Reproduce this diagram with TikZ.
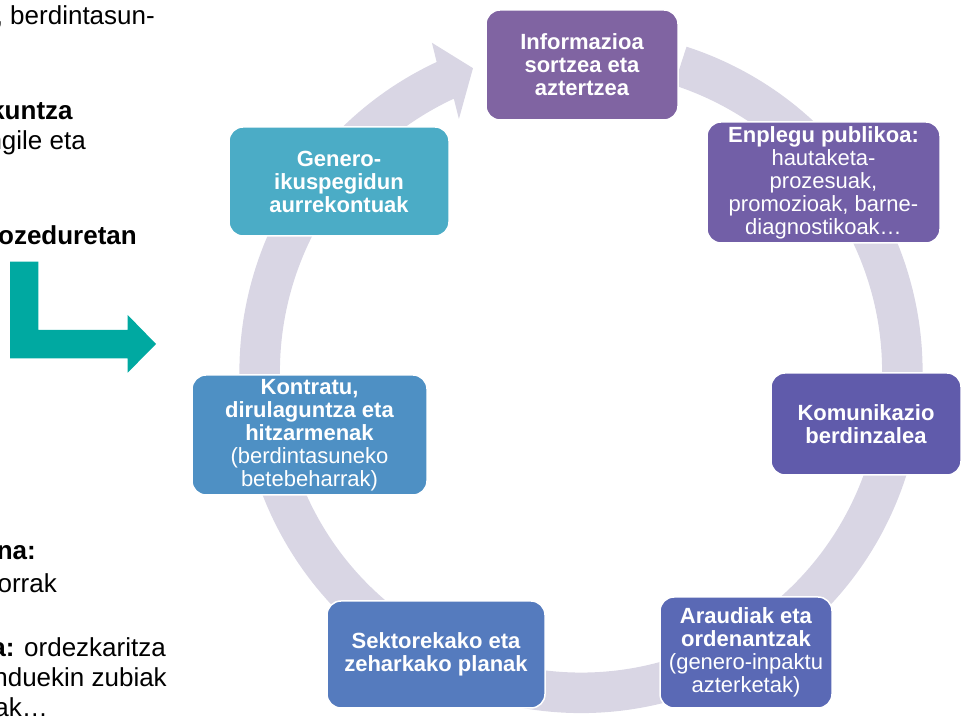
\documentclass[tikz,border=0pt]{standalone}
\usepackage{fontspec}
\setmainfont{Liberation Sans}
\definecolor{ringc}{HTML}{D9D6E4}
\definecolor{tealc}{HTML}{00A9A1}
\definecolor{cinfo}{HTML}{8064A2}
\definecolor{cenpl}{HTML}{725FA7}
\definecolor{ckomu}{HTML}{605BAB}
\definecolor{carau}{HTML}{5A69B5}
\definecolor{csekt}{HTML}{557BBE}
\definecolor{ckont}{HTML}{4E90C4}
\definecolor{cgene}{HTML}{4BACC6}
\begin{document}
\begin{tikzpicture}[x=1pt,y=1pt,
  box/.style={rounded corners=14pt, draw=white, line width=1.5pt, align=center,
    text=white, inner sep=0pt, font=\fontsize{22}{23}\selectfont},
  bbox/.style={box, font=\fontsize{22}{23}\selectfont\bfseries},
  lefttxt/.style={anchor=base east, inner sep=0pt, font=\fontsize{26}{31}\selectfont, text=black}]
\useasboundingbox (0,0) rectangle (962,720);
\clip (0,0) rectangle (962,720);
% cycle arrow
\fill[ringc, shift={(581,348.5)}]
  (72:341.5pt) arc[start angle=72, end angle=-245, radius=341.5pt]
  -- (-245.6:361pt) -- (-250.4:322pt) -- (-244.2:280.5pt) -- (-245:301pt)
  arc[start angle=-245, end angle=72, radius=301pt] -- cycle;
% boxes
\node[bbox, fill=cinfo, minimum width=192pt, minimum height=110pt] (info) at (582,655)
  {Informazioa\\sortzea eta\\aztertzea};
\node[box, fill=cenpl, minimum width=233pt, minimum height=121pt] (enpl) at (823.5,537.5)
  {\textbf{Enplegu publikoa:}\\hautaketa-\\prozesuak,\\promozioak, barne-\\diagnostikoak…};
\node[bbox, fill=ckomu, minimum width=190pt, minimum height=102pt] (komu) at (866,296)
  {Komunikazio\\berdinzalea};
\node[box, fill=carau, minimum width=172pt, minimum height=111pt] (arau) at (746,67.5)
  {\textbf{Araudiak eta}\\\textbf{ordenantzak}\\(genero-inpaktu\\azterketak)};
\node[bbox, fill=csekt, minimum width=218pt, minimum height=107pt] (sekt) at (436,65.5)
  {Sektorekako eta\\zeharkako planak};
\node[box, fill=ckont, minimum width=235pt, minimum height=120pt] (kont) at (309.5,285)
  {\textbf{Kontratu,}\\\textbf{dirulaguntza eta}\\\textbf{hitzarmenak}\\(berdintasuneko\\betebeharrak)};
\node[bbox, fill=cgene, minimum width=220pt, minimum height=109pt] (gene) at (339,538.5)
  {Genero-\\ikuspegidun\\aurrekontuak};
% teal bent arrow
\fill[tealc] (10,458.3) -- (38.3,458.3) -- (38.3,390) -- (127.7,390) -- (127.7,405)
  -- (156,376) -- (127.7,347.3) -- (127.7,361.7) -- (10,361.7) -- cycle;
% left text fragments
\node[lefttxt] (l1) at (155,695) {, berdintasun-};
\node[lefttxt] (l2) at (73,600.7) {\textbf{kuntza}};
\node[lefttxt] (l3) at (86,570) {ngile eta};
\node[lefttxt] (l4) at (137,475) {\textbf{ozeduretan}};
\node[lefttxt] (l5) at (36,160) {\textbf{na:}};
\node[lefttxt] (l6) at (57,127.3) {orrak};
\node[lefttxt] (l7) at (166,63.3) {\textbf{a:} ordezkaritza};
\node[lefttxt] (l8) at (167,33.3) {nduekin zubiak};
\node[lefttxt] (l9) at (48,3.3) {ak…};
\end{tikzpicture}
\end{document}
